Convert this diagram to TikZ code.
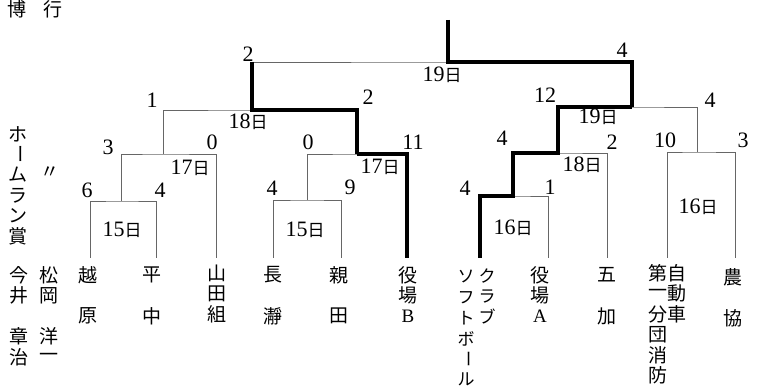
\documentclass[tikz,border=0pt]{standalone}
\usepackage{fontspec}
\newfontfamily\jp{Noto Sans CJK JP}
\newfontfamily\numfont{Liberation Serif}
\tikzset{
  lose/.style={draw=black!60, line width=0.7pt},
  win/.style={draw=black, line width=3.2pt},
  score/.style={font=\numfont\fontsize{22}{22}\selectfont, inner sep=0pt},
  date/.style={font=\numfont\fontsize{22}{22}\selectfont, inner sep=0pt},
  tt/.style={font=\jp\fontsize{19}{19}\selectfont, inner sep=0pt},
  kana/.style={font=\jp\fontsize{17}{17}\selectfont, inner sep=0pt},
}
% vertical names: [style], name, x, first y, characters
\newcommand\tate[5][tt]{\foreach \c [count=\i from 0] in {#5} {\node[#1] (#2-\i) at (#3,#4+20.5*\i) {\c};}}
\newcommand\nichi[1]{#1{\jp\fontsize{17}{17}\selectfont 日}}
\newcommand\bou{\rotatebox[origin=c]{-90}{ー}}
\begin{document}
\begin{tikzpicture}[x=1pt,y=-1pt]
  \useasboundingbox (0,0) rectangle (757,387);
  % left margin texts
  \node[tt] (haku) at (17,9) {博};
  \node[tt] (gyo) at (53,9) {行};
  \tate{hr}{18}{134}{ホ,\bou,ム,ラ,ン,賞}
  \node[tt] (ditto) at (50,173) {〃};
  \tate{imai}{19}{275}{今,井,,章,治}
  \tate{matsu}{49}{275}{松,岡,,洋,一}
  % teams
  \tate{koshi}{88}{275}{越,,原}
  \tate{hira}{152}{275}{平,,中}
  \tate{yamada}{217}{273}{山,田,組}
  \tate{naga}{273}{275}{長,,瀞}
  \tate{oya}{339}{275}{親,,田}
  \tate{yakub}{408}{275}{役,場,{\numfont B}}
  \tate[kana]{soft}{466}{277}{ソ,フ,ト,ボ,\bou,ル}
  \tate[kana]{club}{487}{276}{ク,ラ,ブ}
  \tate{yakua}{540}{275}{役,場,{\numfont A}}
  \tate{goka}{607}{275}{五,,加}
  \tate{shobo}{658}{273}{第,一,分,団,消,防}
  \tate{car}{677}{273}{自,動,車}
  \tate{nokyo}{733}{277}{農,,協}
  % line ends above the teams
  \coordinate (koshi) at (90,258);
  \coordinate (hira) at (156,258);
  \coordinate (yamada) at (216,258);
  \coordinate (naga) at (273,258);
  \coordinate (oya) at (341,258);
  \coordinate (yakub) at (407,258);
  \coordinate (soft) at (480,258);
  \coordinate (yakua) at (548,258);
  \coordinate (goka) at (607,258);
  \coordinate (shobo) at (667,258);
  \coordinate (nokyo) at (735,258);
  % match points
  \coordinate (d15a) at (121,201);
  \coordinate (d15b) at (307,200);
  \coordinate (d17a) at (163,154);
  \coordinate (d17b) at (357,154);
  \coordinate (d18a) at (252,110);
  \coordinate (d16a) at (513,196);
  \coordinate (d16b) at (697,152);
  \coordinate (d18b) at (558,153);
  \coordinate (d19a) at (632,107);
  \coordinate (d19) at (448,62);
  \coordinate (champ) at (448,20);
  % bracket
  \draw[lose] (koshi) |- (d15a) -| (hira);
  \draw[lose] (d15a) |- (d17a) -| (yamada);
  \draw[lose] (naga) |- (d15b) -| (oya);
  \draw[lose] (d15b) |- (d17b) -| (yakub);
  \draw[lose] (d17a) |- (d18a) -| (d17b);
  \draw[lose] (soft) |- (d16a) -| (yakua);
  \draw[lose] (d16a) |- (d18b) -| (goka);
  \draw[lose] (shobo) |- (d16b) -| (nokyo);
  \draw[lose] (d18b) |- (d19a) -| (d16b);
  \draw[lose] (d18a) |- (d19) -| (d19a);
  % winners
  \draw[win] (d17b) -| (yakub);
  \draw[win] (d19 -| d18a) -- (d18a) -| (d17b);
  \draw[win] (soft) |- (d16a) |- (d18b) |- (d19a);
  \draw[win] (champ) -- (d19) -| (d19a);
  % scores
  \node[score] (s15al) at (87,190) {6};
  \node[score] (s15ar) at (160,190) {4};
  \node[score] (s17al) at (108,147) {3};
  \node[score] (s17ar) at (212,142) {0};
  \node[score] (s18al) at (152,100) {1};
  \node[score] (s18ar) at (368,97) {2};
  \node[score] (s15bl) at (272,188) {4};
  \node[score] (s15br) at (350,187) {9};
  \node[score] (s17bl) at (308,142) {0};
  \node[score] (s17br) at (413,142) {11};
  \node[score] (s19l) at (248,54) {2};
  \node[score] (s19r) at (622,50) {4};
  \node[score] (s16al) at (465,188) {4};
  \node[score] (s16ar) at (550,187) {1};
  \node[score] (s18bl) at (502,138) {4};
  \node[score] (s18br) at (612,142) {2};
  \node[score] (s19al) at (545,95) {12};
  \node[score] (s19ar) at (710,100) {4};
  \node[score] (s16bl) at (665,140) {10};
  \node[score] (s16br) at (743,140) {3};
  % dates
  \node[date] (n15a) at (122,230) {\nichi{15}};
  \node[date] (n15b) at (305,230) {\nichi{15}};
  \node[date] (n17a) at (190,168) {\nichi{17}};
  \node[date] (n17b) at (380,167) {\nichi{17}};
  \node[date] (n18a) at (248,122) {\nichi{18}};
  \node[date] (n19) at (442,75) {\nichi{19}};
  \node[date] (n19a) at (598,117) {\nichi{19}};
  \node[date] (n18b) at (582,165) {\nichi{18}};
  \node[date] (n16a) at (513,228) {\nichi{16}};
  \node[date] (n16b) at (698,207) {\nichi{16}};
\end{tikzpicture}
\end{document}
